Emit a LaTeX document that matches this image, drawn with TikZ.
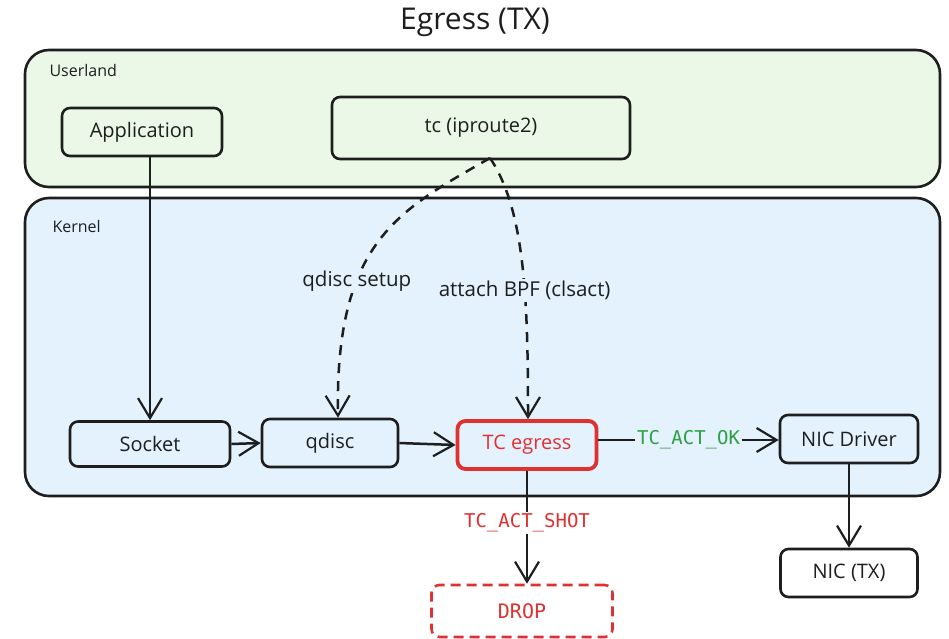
\documentclass[tikz,border=0pt]{standalone}
\usepackage{fontspec}
\setmainfont{Open Sans}
\newfontfamily\codefont{DejaVu Sans Mono}
\usetikzlibrary{arrows.meta}
\definecolor{userfill}{RGB}{235,248,232}
\definecolor{kernfill}{RGB}{227,242,253}
\definecolor{edgecol}{RGB}{30,30,30}
\definecolor{redc}{RGB}{224,49,49}
\definecolor{greenc}{RGB}{47,158,68}
\tikzset{
  x=1pt, y=-1pt,
  region/.style={draw=edgecol, line width=2.6pt, rounded corners=24pt},
  box/.style={draw=edgecol, line width=2.6pt, rounded corners=8pt, font=\fontsize{20}{24}\selectfont, text=edgecol, inner sep=0pt},
  regionlabel/.style={font=\fontsize{16}{19}\selectfont, text=edgecol, anchor=west},
  flow/.style={draw=edgecol, line width=2.5pt, -{Straight Barb[length=20pt,width=24pt,line width=2.2pt]}},
  flowdash/.style={flow, dash pattern=on 10pt off 8pt},
  edgelabel/.style={font=\fontsize{20.5}{24}\selectfont, text=edgecol, inner sep=2pt},
  codelabel/.style={font=\codefont\fontsize{19}{22}\selectfont, inner sep=2pt}
}
\begin{document}
\begin{tikzpicture}
\useasboundingbox[fill=white] (0,0) rectangle (949,638);
% title
\node[font=\fontsize{30}{34}\selectfont, text=edgecol] (title) at (475,22) {Egress (TX)};
% regions
\draw[region, fill=userfill] (25,50) rectangle (940,187);
\node[regionlabel] (userland) at (46,70) {Userland};
\draw[region, fill=kernfill] (25,198) rectangle (940,496);
\node[regionlabel] (kernel) at (49,226) {Kernel};
% nodes
\node[box, minimum width=160pt, minimum height=48pt] (app) at (142,132) {Application};
\node[box, minimum width=298pt, minimum height=62pt] (tc) at (481,128) {tc (iproute2)};
\node[box, minimum width=160pt, minimum height=45pt] (socket) at (150,444) {Socket};
\node[box, minimum width=136pt, minimum height=48pt] (qdisc) at (330,443) {qdisc};
\node[box, draw=redc, line width=3.8pt, text=redc, minimum width=139pt, minimum height=48pt] (tce) at (527,445) {TC egress};
\node[box, minimum width=138pt, minimum height=48pt] (nicdrv) at (849,439) {NIC Driver};
\node[box, fill=white, minimum width=137pt, minimum height=48pt] (nictx) at (849,573) {NIC (TX)};
\node[box, draw=redc, text=redc, dash pattern=on 10pt off 6pt, font=\codefont\fontsize{20}{24}\selectfont, minimum width=181pt, minimum height=52pt] (drop) at (522,611) {DROP};
% connectors
\draw[flow] (app.south -| 150,0) -- (socket.north -| 150,0);
\draw[flow] (socket.east) -- (qdisc.west);
\draw[flow] (qdisc.east) -- (tce.west);
\draw[flow] (tce.east |- 0,440) -- node[codelabel, text=greenc, fill=kernfill] (oklabel) {TC\_ACT\_OK} (nicdrv.west |- 0,440);
\draw[flow] (tce.south) -- node[codelabel, text=redc, fill=white, pos=0.46] (shotlabel) {TC\_ACT\_SHOT} (drop.north -| tce.south);
\draw[flow] (nicdrv.south) -- (nictx.north);
\coordinate (tcsrc) at (490,158);
\draw[flowdash] (tcsrc) .. controls (400,210) and (335,240) .. node[edgelabel, fill=kernfill, pos=0.66] (setuplabel) {qdisc setup} (qdisc.north -| 338,0);
\draw[flowdash] (tcsrc) .. controls (525,210) and (528,300) .. node[edgelabel, fill=kernfill, pos=0.6] (bpflabel) {attach BPF (clsact)} (tce.north -| 528,0);
\end{tikzpicture}
\end{document}
